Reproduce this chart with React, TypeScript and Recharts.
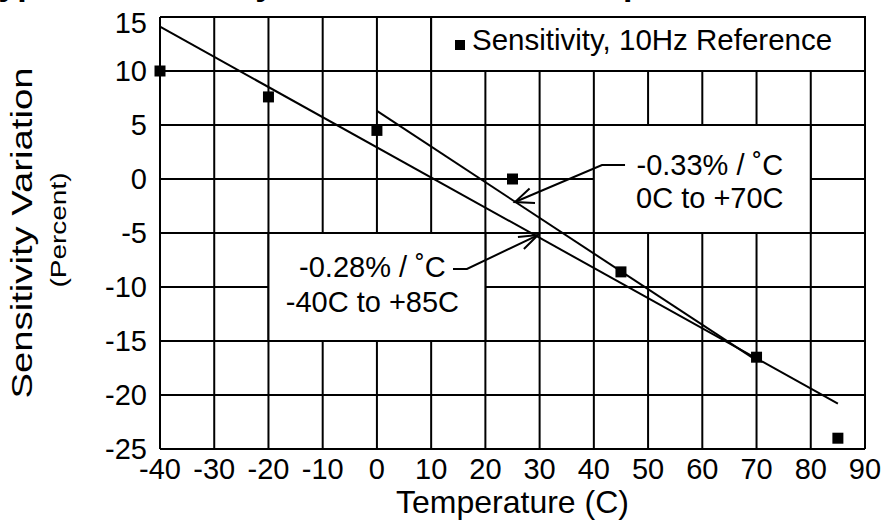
import React from "react";
import {
  ComposedChart,
  Line,
  Scatter,
  XAxis,
  YAxis,
  ZAxis,
  CartesianGrid,
  ReferenceArea,
  Legend,
} from "recharts";

const FONT = "'Liberation Sans', Arial, Helvetica, sans-serif";

// measured sensitivity, 10Hz reference
const temps = [-40, -20, 0, 25, 45, 70, 85];
const sensitivity = [10, 7.6, 4.5, 0, -8.6, -16.5, -24];

const xTicks = [-40, -30, -20, -10, 0, 10, 20, 30, 40, 50, 60, 70, 80, 90];
const yTicks = [-25, -20, -15, -10, -5, 0, 5, 10, 15];

// straight line fits
const fitWide = [{ t: -40, v: 14.1 }, { t: 85, v: -20.8 }]; // -0.28%/C, -40C..+85C
const fitNarrow = [{ t: 0, v: 6.3 }, { t: 70, v: -16.8 }]; // -0.33%/C, 0C..+70C

// callout leaders + arrow heads, in data units
const leaderNarrow = [{ t: 45.75, v: 1.3 }, { t: 41.5, v: 1.3 }, { t: 25.46, v: -2.13 }];
const arrowNarrow = [{ t: 28.15, v: -0.87 }, { t: 25.46, v: -2.13 }, { t: 29.15, v: -2.22 }];
const leaderWide = [{ t: 14.03, v: -8.33 }, { t: 16.6, v: -8.33 }, { t: 29.7, v: -5.19 }];
const arrowWide = [{ t: 26.0, v: -5.37 }, { t: 29.7, v: -5.19 }, { t: 27.1, v: -6.48 }];

const legendText = "Sensitivity, 10Hz Reference";
const noteNarrow = ["-0.33% / \u02DAC", "0C to +70C"];
const noteWide = ["-0.28% / \u02DAC", "-40C to +85C"];
const title = "Typical Sensitivity Variation versus Temperature";

const points = temps.map((t, i) => ({ t, v: sensitivity[i] }));

const YTick = (props: any) => {
  const { x, y, payload } = props;
  const shift = payload.value === 15 ? 6 : 0;
  return (
    <text x={x} y={y + shift} dy="0.355em" textAnchor="end" fontSize={29} fontFamily={FONT} fill="#000">
      {payload.value}
    </text>
  );
};

const YTitle = (props: any) => {
  const vb = props.viewBox;
  const cy = vb.y + vb.height / 2;
  const x1 = vb.x - 68;
  const x2 = vb.x - 34;
  return (
    <g fontFamily={FONT} fill="#000">
      <text x={x1} y={cy} transform={`rotate(-90 ${x1} ${cy})`} textAnchor="middle" fontSize={29}
        textLength={331} lengthAdjust="spacingAndGlyphs">
        Sensitivity Variation
      </text>
      <text x={x2} y={cy - 3} transform={`rotate(-90 ${x2} ${cy - 3})`} textAnchor="middle" fontSize={22}
        textLength={115} lengthAdjust="spacingAndGlyphs">
        (Percent)
      </text>
    </g>
  );
};

const BoxText = (props: any) => {
  const { viewBox, lines, dx, y1, y2 } = props;
  const cx = viewBox.x + viewBox.width / 2 + dx;
  return (
    <text textAnchor="middle" fontSize={29} fontFamily={FONT} fill="#000">
      <tspan x={cx} y={viewBox.y + y1}>{lines[0]}</tspan>
      <tspan x={cx} y={viewBox.y + y2}>{lines[1]}</tspan>
    </text>
  );
};

const LegendBox = () => (
  <div style={{ fontFamily: FONT, fontSize: 29.5, lineHeight: "36px", whiteSpace: "nowrap", color: "#000" }}>
    <span style={{ display: "inline-block", width: 10, height: 10, background: "#000", marginRight: 7 }} />
    {legendText}
  </div>
);

export default function App() {
  return (
    <div style={{ position: "absolute", left: 0, top: 0, width: 882, height: 525, background: "#fff", overflow: "hidden" }}>
      <svg width={882} height={30} style={{ position: "absolute", left: 0, top: 0 }}>
        <text x={-20} y={-5.5} fontSize={34} fontWeight="bold" fontFamily={FONT} fill="#000">
          {title}
        </text>
      </svg>
      <ComposedChart width={882} height={525} margin={{ top: 17, right: 17, bottom: 12, left: 100 }}>
        <CartesianGrid stroke="#000" strokeWidth={2} />
        <XAxis
          type="number"
          dataKey="t"
          domain={[-40, 90]}
          ticks={xTicks}
          interval={0}
          tickLine={false}
          axisLine={{ stroke: "#000", strokeWidth: 2 }}
          tickMargin={3}
          height={64}
          tick={{ fontSize: 29, fill: "#000", fontFamily: FONT }}
          label={{ value: "Temperature (C)", position: "insideBottom", offset: 0, fontSize: 32, fill: "#000", fontFamily: FONT }}
        />
        <YAxis
          type="number"
          domain={[-25, 15]}
          ticks={yTicks}
          interval={0}
          width={60}
          tickLine={false}
          axisLine={{ stroke: "#000", strokeWidth: 2 }}
          tickMargin={7}
          tick={<YTick />}
          label={<YTitle />}
        />
        <ZAxis range={[121, 121]} />
        <ReferenceArea x1={10} x2={90} y1={10} y2={15} fill="#fff" fillOpacity={1} stroke="#000" strokeWidth={2} />
        <ReferenceArea x1={40} x2={80} y1={-5} y2={5} fill="#fff" fillOpacity={1} stroke="#000" strokeWidth={2}
          label={<BoxText lines={noteNarrow} dx={7.5} y1={50} y2={83} />} />
        <ReferenceArea x1={-20} x2={20} y1={-15} y2={-5} fill="#fff" fillOpacity={1} stroke="#000" strokeWidth={2}
          label={<BoxText lines={noteWide} dx={-4.5} y1={44} y2={79} />} />
        <Line data={fitWide} dataKey="v" stroke="#000" strokeWidth={2} dot={false} isAnimationActive={false} legendType="none" />
        <Line data={fitNarrow} dataKey="v" stroke="#000" strokeWidth={2} dot={false} isAnimationActive={false} legendType="none" />
        <Line data={leaderNarrow} dataKey="v" stroke="#000" strokeWidth={2} dot={false} isAnimationActive={false} legendType="none" />
        <Line data={arrowNarrow} dataKey="v" stroke="#000" strokeWidth={2} dot={false} isAnimationActive={false} legendType="none" />
        <Line data={leaderWide} dataKey="v" stroke="#000" strokeWidth={2} dot={false} isAnimationActive={false} legendType="none" />
        <Line data={arrowWide} dataKey="v" stroke="#000" strokeWidth={2} dot={false} isAnimationActive={false} legendType="none" />
        <Scatter data={points} dataKey="v" name={legendText} shape="square" fill="#000" isAnimationActive={false} />
        <Legend
          layout="horizontal"
          verticalAlign="middle"
          align="center"
          content={<LegendBox />}
          wrapperStyle={{ left: 455, top: 22, width: "auto", height: "auto" }}
        />
      </ComposedChart>
    </div>
  );
}
